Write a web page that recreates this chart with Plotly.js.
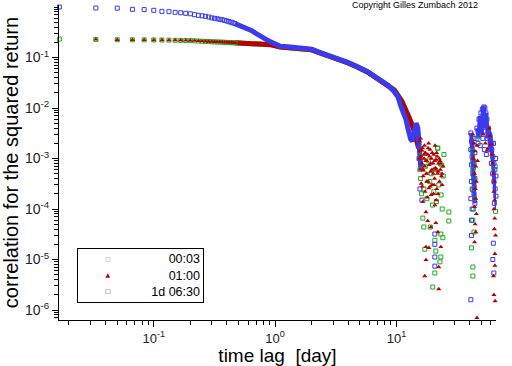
<!DOCTYPE html>
<html>
<head>
<meta charset="utf-8">
<script src="https://cdn.plot.ly/plotly-3.0.1.min.js"></script>
<style>html,body{margin:0;padding:0;background:#fff}#chart{width:512px;height:366px}</style>
</head>
<body>
<div id="chart"></div>
<script>
// ---- data (lag in days, correlation of squared returns) ----
const seriesNames = ['00:03', '01:00', '1d 06:30'];

const lagSparse = [0.01667, 0.03333, 0.05, 0.06667, 0.08333, 0.1, 0.11667, 0.13333, 0.15, 0.16667, 0.18333, 0.2, 0.21667, 0.23333, 0.25, 0.26667, 0.28333, 0.3, 0.31667, 0.33333, 0.35, 0.36667, 0.38333, 0.4, 0.41667, 0.43333, 0.45, 0.46667];
const greenSparse = [0.232, 0.228, 0.225, 0.224, 0.224, 0.223, 0.222, 0.221, 0.219, 0.218, 0.217, 0.216, 0.214, 0.212, 0.210, 0.208, 0.207, 0.205, 0.204, 0.203, 0.202, 0.201, 0.200, 0.199, 0.198, 0.197, 0.196, 0.195];
const redSparse = [null, 0.228, 0.224, 0.224, 0.223, 0.222, 0.222, 0.221, 0.220, 0.219, 0.218, 0.217, 0.215, 0.213, 0.211, 0.209, 0.207, 0.206, 0.205, 0.204, 0.203, 0.202, 0.201, 0.200, 0.199, 0.198, 0.197, 0.196];
const blueSparse = [1.0, 0.955, 0.95, 0.90, 0.89, 0.86, 0.82, 0.81, 0.785, 0.77, 0.75, 0.735, 0.705, 0.685, 0.67, 0.655, 0.635, 0.61, 0.597, 0.585, 0.57, 0.56, 0.545, 0.53, 0.512, 0.50, 0.485, 0.47];

const greenDenseLag = [0.46667, 0.6, 0.75, 0.93, 1.1, 1.3, 1.6, 2.0, 2.4, 2.9, 3.4, 4.0, 4.8, 5.8, 7.0, 8.4, 9.6, 11.2, 12.5, 13.8, 15.0];
const greenDenseVal = [0.195, 0.192, 0.187, 0.179, 0.163, 0.158, 0.152, 0.142, 0.121, 0.105, 0.091, 0.078, 0.064, 0.051, 0.038, 0.029, 0.023, 0.013, 0.007, 0.004, 0.002];
const redDenseLag = [0.46667, 0.6, 0.75, 0.93, 1.1, 1.3, 1.6, 2.0, 2.4, 2.9, 3.4, 4.0, 4.8, 5.8, 7.0, 8.4, 9.6, 10.9, 11.8, 12.8, 13.9, 14.6, 15.2];
const redDenseVal = [0.196, 0.192, 0.187, 0.179, 0.162, 0.158, 0.152, 0.142, 0.120, 0.104, 0.090, 0.078, 0.064, 0.051, 0.0377, 0.0285, 0.0225, 0.0144, 0.0098, 0.0062, 0.0037, 0.0024, 0.0016];
const blueDenseLag = [0.46667, 0.503, 0.546, 0.596, 0.643, 0.689, 0.743, 0.792, 0.843, 0.898, 0.963, 1.025, 1.093, 1.27, 1.5, 1.73, 2.0, 2.39, 2.8, 3.28, 3.97, 4.79, 5.79, 6.99, 8.44, 9.6, 10.3, 10.9, 11.5, 12.0, 12.4, 12.7, 13.1, 13.5, 14.0, 14.5, 15.0, 15.3, 15.6, 15.9];
const blueDenseVal = [0.47, 0.44, 0.407, 0.372, 0.34, 0.305, 0.279, 0.251, 0.229, 0.209, 0.191, 0.177, 0.168, 0.163, 0.158, 0.152, 0.146, 0.124, 0.11, 0.0964, 0.080, 0.0657, 0.0524, 0.0387, 0.0285, 0.021, 0.0165, 0.0106, 0.008, 0.0058, 0.004, 0.0027, 0.0024, 0.0022, 0.0035, 0.005, 0.004, 0.002, 0.001, 0.0006];

const greenClusterLag = [15.3, 15.8, 16.3, 16.8, 17.3, 17.8, 18.3, 18.8, 19.3, 19.8, 20.3, 20.8, 21.3, 21.8, 22.3, 22.8, 23.3, 23.8, 24.3, 21.9, 23.6, 27.0, 27.0, 16.5, 16.8, 19.0, 23.2, 24.1, 20.7, 17.1, 21.1, 23.2, 22.8, 20.7, 19.9, 15.6, 16.1, 24.6,
  42.0, 43.0, 42.5, 43.5, 42.0, 44.0, 43.0, 42.5, 43.5, 42.6, 42.6, 66.5, 46.0, 65.0, 66.5, 65.5, 67.0, 41.5];
const greenClusterVal = [1.0e-3, 4e-4, 1.3e-3, 2.5e-4, 7e-4, 1.6e-4, 9e-4, 3.5e-4, 5e-4, 1.2e-4, 2.2e-4, 6e-4, 1.4e-4, 1.6e-3, 3e-4, 8e-4, 1.9e-4, 1.0e-4, 4.5e-4, 1.61e-3, 7.4e-4, 8.7e-5, 5.8e-5, 6.6e-5, 4.4e-5, 4.4e-5, 3.2e-5, 2.7e-5, 2.4e-5, 1.6e-5, 1.47e-5, 1.12e-5, 9e-6, 5.4e-6, 2.85e-6, 6e-4, 2.0e-4, 1.2e-3,
  1.4e-3, 9e-4, 6e-4, 4e-4, 2.5e-4, 1.6e-4, 1.0e-4, 6e-5, 3.5e-5, 7.1e-6, 4.7e-6, 3.9e-6, 2.5e-3, 7e-4, 2.0e-4, 9e-5, 4e-5, 1.7e-5];

const redClusterLag = [15.4, 15.7, 15.9, 16.2, 16.4, 16.6, 16.9, 17.1, 17.3, 17.6, 17.8, 18.1, 18.3, 18.6, 18.9, 19.1, 19.4, 19.7, 20.0, 20.3, 20.6, 20.9, 21.2, 21.5, 21.8, 22.2, 22.6, 23.0, 23.5, 24.2,
  15.5, 16.0, 16.7, 17.2, 17.9, 18.4, 19.0, 19.6, 20.2, 20.8, 21.4, 22.0, 22.8, 23.8,
  15.6, 16.1, 16.5, 16.9, 17.4, 17.8, 18.2, 18.7, 19.2, 19.7, 20.1, 20.6, 21.1, 21.6, 22.1, 22.5, 23.1, 23.7, 15.8, 16.3, 17.0, 17.7, 18.5, 19.3, 20.4, 21.3,
  17.5, 18.1, 21.1, 19.2, 21.9, 17.5, 18.5, 23.2, 17.5, 22.3, 17.1, 22.3, 20.7, 16.5,
  42.6, 43.5, 44.3, 43.0, 45.0, 44.0, 45.5, 44.5, 45.0, 44.0, 45.5, 44.5, 45.0, 44.0, 46.0, 46.5,
  58.0, 59.0, 60.0, 61.0, 62.0, 63.0, 64.0, 63.5, 64.5, 63.5, 64.5, 64.0, 65.5, 64.7, 64.7, 63.0, 63.5, 65.0, 46.0, 54.0, 56.0, 52.0];
const redClusterVal = [1.4e-3, 6e-4, 1.1e-3, 8e-4, 1.6e-3, 4.5e-4, 1.0e-3, 7e-4, 1.3e-3, 5e-4, 9e-4, 1.2e-3, 3.5e-4, 7.5e-4, 1.5e-3, 5.5e-4, 1.0e-3, 3e-4, 8e-4, 1.2e-3, 4e-4, 6.5e-4, 9.5e-4, 2.5e-4, 5e-4, 8e-4, 3.5e-4, 6e-4, 4.5e-4, 7e-4,
  2.2e-3, 3.2e-4, 5.8e-4, 2.2e-4, 1.7e-4, 2.0e-3, 2.8e-4, 6e-4, 2.0e-4, 1.8e-3, 1.3e-3, 2.0e-4, 9e-4, 3.0e-4,
  1.0e-3, 1.45e-3, 6e-4, 1.2e-3, 9e-4, 5e-4, 1.6e-3, 1.1e-3, 8e-4, 1.3e-3, 5e-4, 9e-4, 6e-4, 1.1e-3, 5.5e-4, 1.0e-3, 8e-4, 5e-4, 2.5e-3, 2.8e-4, 1.8e-3, 3.5e-4, 2.6e-4, 1.9e-4, 3e-4, 1.5e-4,
  8.7e-5, 5.8e-5, 5.3e-5, 4.4e-5, 3.5e-5, 1.77e-5, 1.7e-5, 1.77e-5, 9.8e-6, 7.1e-6, 4.7e-6, 2.6e-6, 1.2e-4, 1.4e-4,
  3.0e-3, 2.0e-3, 1.4e-3, 1.0e-3, 7e-4, 5e-4, 3.5e-4, 2.5e-4, 1.6e-4, 1.1e-4, 8e-5, 5e-5, 3.5e-5, 2.2e-5, 1.8e-3, 9e-4,
  4e-3, 2.8e-3, 1.9e-3, 1.2e-3, 8e-4, 5e-4, 3.5e-4, 2.2e-4, 1.5e-4, 1.0e-4, 6.5e-5, 4e-5, 3e-5, 1.3e-5, 7.6e-6, 4.7e-6, 2.0e-6, 1.5e-6, 7e-7, 2e-3, 1.5e-3, 3e-3];

const blueClusterLag = [15.5, 15.6, 16.2, 20.7, 20.7, 20.7, 20.7,
  41.0, 41.5, 41.0, 42.0, 41.5, 42.6, 41.5, 42.6, 41.0, 42.0, 41.5, 43.5, 44.3, 43.5, 44.3, 43.5, 44.3,
  46.0, 47.8, 49.6, 51.0, 52.5, 53.5, 54.5, 55.6, 57.0, 48.5, 50.5, 52.5, 54.0, 56.0, 47.0, 49.0, 51.5, 53.0, 55.0, 57.7,
  58.5, 60.0, 61.0, 62.2, 63.5, 64.7, 66.0, 67.0, 60.5, 62.0, 63.5, 65.0, 66.0, 64.0, 67.0, 61.0, 65.5, 66.5, 63.0,
  41.0, 62.2, 63.4, 41.5, 62.8];
const blueClusterVal = [1e-3, 2.5e-4, 1.5e-4, 3.2e-5, 2.0e-5, 1.12e-5, 7.4e-6,
  3.2e-3, 2.2e-3, 1.5e-3, 1.1e-3, 7.5e-4, 5e-4, 3.5e-4, 2.4e-4, 1.6e-4, 1.0e-4, 6e-5, 2.5e-3, 1.3e-3, 8e-4, 4e-4, 2.0e-4, 1.3e-4,
  4e-3, 6e-3, 8e-3, 9.5e-3, 1.05e-2, 1.0e-2, 8e-3, 6e-3, 4e-3, 3e-3, 4e-3, 5e-3, 3.5e-3, 2.5e-3, 2e-3, 1.8e-3, 2.5e-3, 1.5e-3, 1.2e-3, 1.5e-3,
  3e-3, 2e-3, 1.5e-3, 1.1e-3, 8e-4, 6e-4, 4.5e-4, 3e-4, 8e-4, 5e-4, 3.5e-4, 2.5e-4, 1.8e-4, 1.3e-4, 9e-5, 2e-3, 1.0e-3, 6e-4, 2.0e-3,
  1.6e-6, 1.0e-5, 5.4e-6, 3.0e-5, 2.1e-5];

// dense overlapping blue points in the second bump, drawn as thick bands
const blueBandLag = [41.0, 42.6, 41.5, 43.5, 42.0, 44.3, 42.6, 44.3, null, 46.0, 47.5, 48.5, 50.0, 51.5, 52.5, 53.5, 55.0, 56.5, 57.7, 59.0, null, 59.5, 61.5, 60.5, 63.0, 62.0, 64.5, 63.5, 66.0, 65.0, 67.0];
const blueBandVal = [3.2e-3, 1.5e-3, 2.2e-3, 6e-4, 1.0e-3, 2.5e-4, 5e-4, 1.3e-4, null, 4e-3, 2.5e-3, 7e-3, 3e-3, 1e-2, 1.05e-2, 4e-3, 8e-3, 2.5e-3, 4e-3, 1.5e-3, null, 3e-3, 1e-3, 2e-3, 5e-4, 1.2e-3, 2.5e-4, 6e-4, 1.5e-4, 3e-4, 1e-4];

const xTickVals = [0.1, 1, 10];
const xTickText = ['10<sup>-1</sup>', '10<sup>0</sup>', '10<sup>1</sup>'];
const yTickVals = [1e-6, 1e-5, 1e-4, 1e-3, 1e-2, 1e-1];
const yTickText = ['10<sup>-6</sup>', '10<sup>-5</sup>', '10<sup>-4</sup>', '10<sup>-3</sup>', '10<sup>-2</sup>', '10<sup>-1</sup>'];

// ---- styles ----
const GREEN = '#1fae1f', RED = '#b80000', BLUE = '#3a3aee';
const NB = '\u00a0';
const FONT = 'Liberation Sans, Arial, Helvetica, sans-serif';

function lineTrace(x, y, c, w) {
  return {x: x, y: y, type: 'scatter', mode: 'lines', line: {color: c, width: w},
          connectgaps: false, showlegend: false, hoverinfo: 'skip', cliponaxis: false};
}
function markTrace(name, x, y, c, sym, size) {
  const open = sym.indexOf('open') >= 0;
  return {x: x, y: y, name: name, type: 'scatter', mode: 'markers', cliponaxis: false, showlegend: false,
          marker: open ? {symbol: sym, size: size, color: c, line: {color: c, width: 1}}
                       : {symbol: sym, size: size, color: c, line: {width: 0}}};
}

const data = [
  lineTrace(greenDenseLag, greenDenseVal, GREEN, 5),
  lineTrace(redDenseLag, redDenseVal, RED, 5),
  lineTrace(blueDenseLag, blueDenseVal, BLUE, 5),
  lineTrace(blueBandLag, blueBandVal, BLUE, 4),
  markTrace(seriesNames[0], lagSparse.concat(greenClusterLag), greenSparse.concat(greenClusterVal), GREEN, 'square-open', 4),
  markTrace(seriesNames[2], lagSparse.concat(blueClusterLag), blueSparse.concat(blueClusterVal), BLUE, 'square-open', 4),
  markTrace(seriesNames[1], lagSparse.concat(redClusterLag), redSparse.concat(redClusterVal), RED, 'triangle-up', 4.5)
];

const legendSymbols = '<span style="color:' + GREEN + ';font-size:6px">\u25a1</span><br>' +
                      '<span style="color:' + RED + ';font-size:6px">\u25b2</span><br>' +
                      '<span style="color:#3030b0;font-size:6px">\u25a1</span>';

const layout = {
  width: 512, height: 366,
  margin: {l: 59, r: 16, t: 5, b: 46},
  paper_bgcolor: '#fff', plot_bgcolor: '#fff',
  font: {family: FONT, color: '#000', size: 13},
  showlegend: false,
  xaxis: {type: 'log', range: [-1.781, 1.820], showgrid: false, zeroline: false,
          showline: true, linecolor: '#000', linewidth: 1, mirror: false,
          ticks: 'outside', ticklen: 6, tickcolor: '#000',
          tickmode: 'array', tickvals: xTickVals, ticktext: xTickText,
          tickfont: {size: 13, color: '#222'},
          minor: {ticks: 'outside', ticklen: 4, tickcolor: '#000', dtick: 'D1', showgrid: false},
          title: {text: 'time lag' + NB + NB + '[day]', font: {size: 19, color: '#000'}, standoff: 4}},
  yaxis: {type: 'log', range: [-6.198, 0.04], showgrid: false, zeroline: false,
          showline: true, linecolor: '#000', linewidth: 1, mirror: false,
          ticks: 'outside', ticklen: 6, tickcolor: '#000',
          tickmode: 'array', tickvals: yTickVals, ticktext: yTickText,
          tickfont: {size: 14, color: '#222'},
          minor: {ticks: 'outside', ticklen: 4, tickcolor: '#000', dtick: 'D1', showgrid: false},
          title: {text: 'correlation for the squared return', font: {size: 20, color: '#000'}, standoff: 4}},
  annotations: [
    {text: 'Copyright Gilles Zumbach 2012', xref: 'paper', yref: 'paper', x: 0.963, y: 1,
     xanchor: 'right', yanchor: 'middle', showarrow: false, font: {size: 9, color: '#000'}},
    {text: seriesNames.join('<br>'), xref: 'paper', yref: 'paper', x: 0.0412, y: 0.2286,
     xanchor: 'left', yanchor: 'top', showarrow: false, align: 'right', valign: 'middle',
     width: 119, height: 47, borderpad: 3, borderwidth: 1, bordercolor: '#000', bgcolor: '#fff',
     font: {size: 12.5, color: '#000'}},
    {text: legendSymbols, xref: 'paper', yref: 'paper', x: 0.1121, y: 0.2286,
     xanchor: 'center', yanchor: 'top', showarrow: false, align: 'center', valign: 'middle',
     height: 47, borderpad: 4, borderwidth: 0, yshift: 1,
     font: {size: 12.5, family: 'DejaVu Sans', color: '#000'}}
  ]
};

Plotly.newPlot('chart', data, layout, {staticPlot: true, displayModeBar: false});
</script>
</body>
</html>
